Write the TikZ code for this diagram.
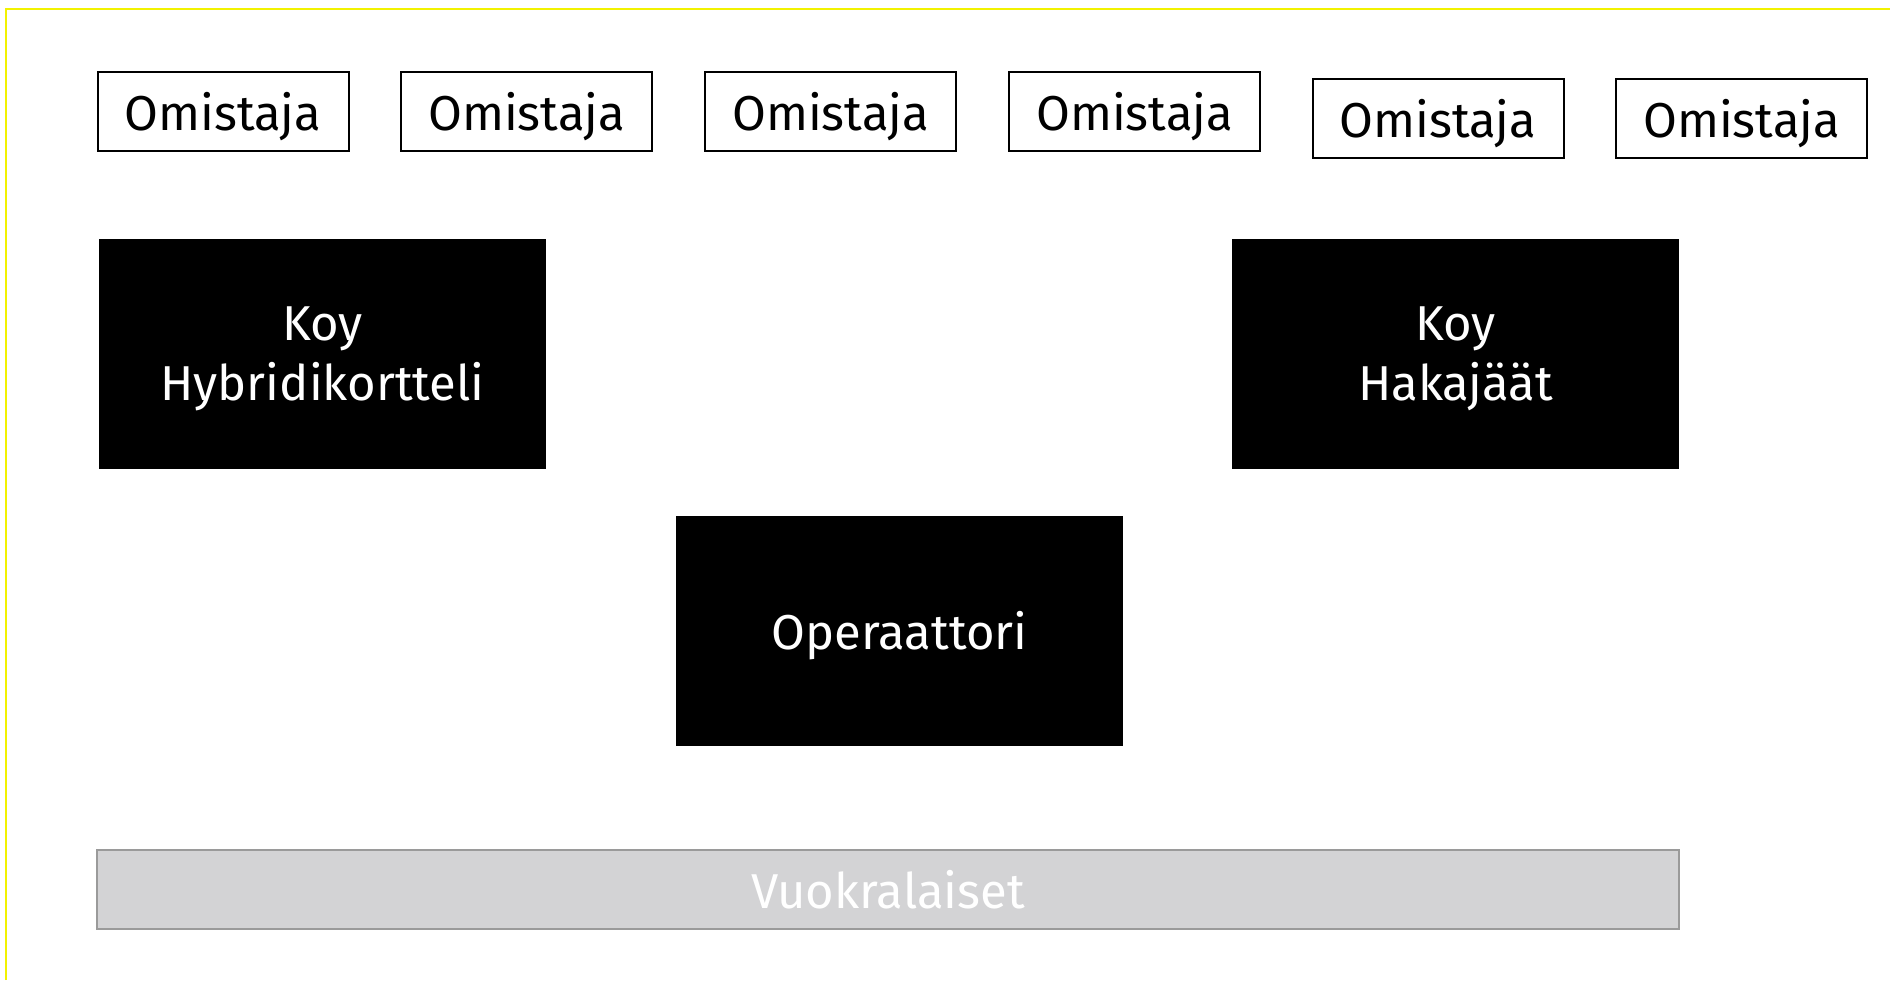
\documentclass[tikz,border=0pt]{standalone}
\usepackage{fontspec}
\setmainfont{Fira Sans}
\usepackage{xcolor}
\usepackage{tikz}

\definecolor{frameyellow}{HTML}{F2F200}
\definecolor{tenantgray}{HTML}{D3D3D5}
\definecolor{tenantline}{HTML}{9A9A9A}

\begin{document}
\begin{tikzpicture}[x=0.5pt, y=-0.5pt,
    owner/.style={draw=black, line width=1pt, fill=white, minimum width=125.5pt, minimum height=39.5pt, inner sep=0pt, text depth=0pt, font=\fontsize{24.5}{30}\selectfont},
    company/.style={fill=black, text=white, minimum width=223.5pt, minimum height=115pt, inner sep=0pt, text depth=-3pt, align=center, font=\fontsize{24.5}{30}\selectfont},
    tenants/.style={draw=tenantline, line width=1.2pt, fill=tenantgray, text=white, minimum width=791pt, minimum height=39.5pt, inner sep=0pt, text depth=-5pt, font=\fontsize{24.5}{30}\selectfont}]
    \useasboundingbox (0,0) rectangle (1890,980);

    % Frame
    \draw[frameyellow, line width=1pt] (5.5,980) -- (5.5,9) -- (1890,9);

    % Owners
    \node[owner] (own1) at (223,111.5) {Omistaja};
    \node[owner] (own2) at (526.5,111.5) {Omistaja};
    \node[owner] (own3) at (830.5,111.5) {Omistaja};
    \node[owner] (own4) at (1134.5,111.5) {Omistaja};
    \node[owner] (own5) at (1438,118) {Omistaja};
    \node[owner] (own6) at (1741.5,118) {Omistaja};

    % Companies
    \node[company] (hybrid) at (322.5,354) {Koy\\Hybridikortteli};
    \node[company] (haka) at (1455.5,354) {Koy\\Hakajäät};

    % Operator
    \node[company] (oper) at (899.5,630.5) {Operaattori};

    % Tenants
    \node[tenants] (tenant) at (888,889.5) {Vuokralaiset};
\end{tikzpicture}
\end{document}
